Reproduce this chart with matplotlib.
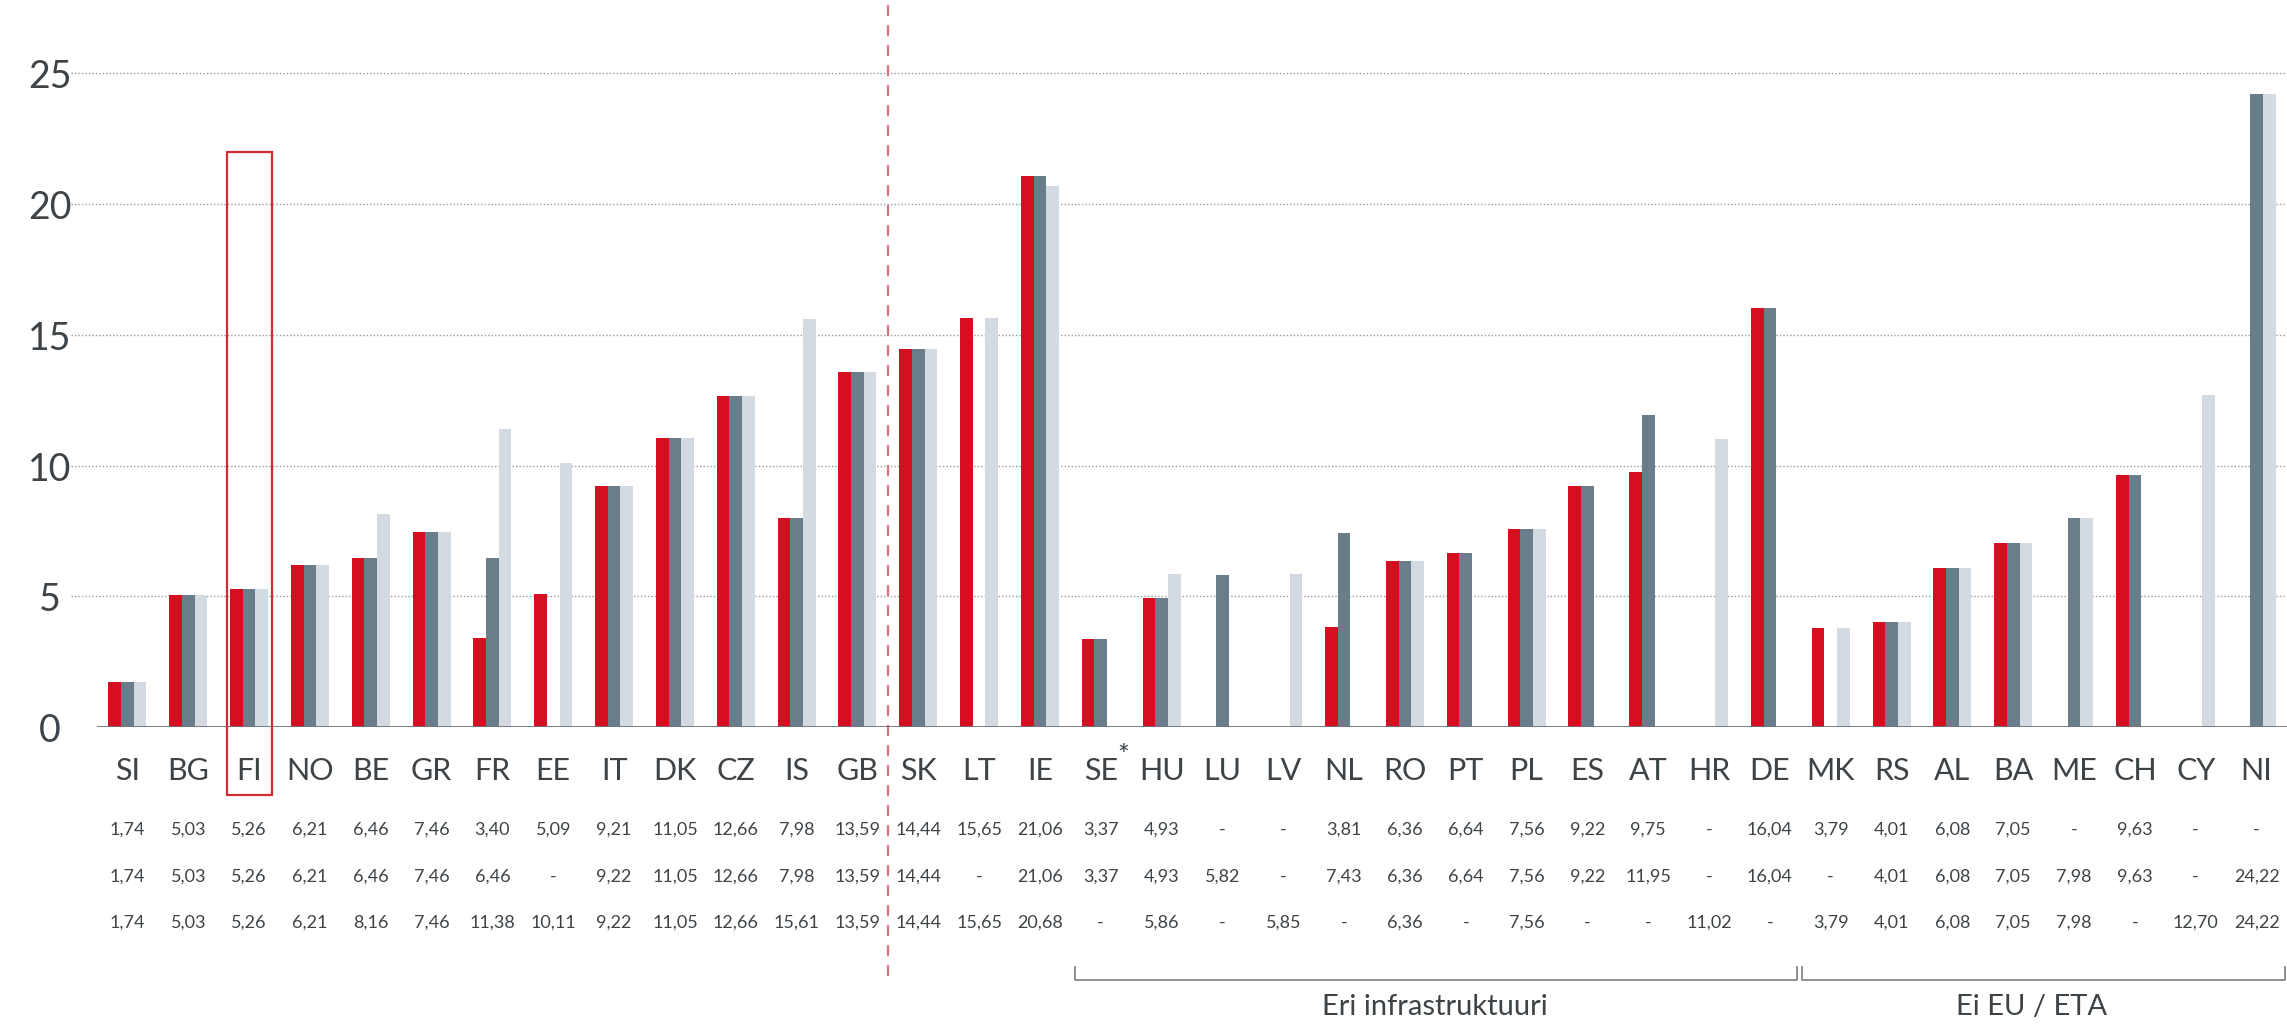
import matplotlib
matplotlib.use("Agg")
import matplotlib.pyplot as plt
import matplotlib.transforms as mtransforms
from matplotlib.patches import Rectangle
import numpy as np

countries = ["SI", "BG", "FI", "NO", "BE", "GR", "FR", "EE", "IT", "DK", "CZ", "IS",
             "GB", "SK", "LT", "IE", "SE", "HU", "LU", "LV", "NL", "RO", "PT", "PL",
             "ES", "AT", "HR", "DE", "MK", "RS", "AL", "BA", "ME", "CH", "CY", "NI"]

# None = "-" in the table (no bar)
series_red = [1.74, 5.03, 5.26, 6.21, 6.46, 7.46, 3.40, 5.09, 9.21, 11.05, 12.66, 7.98,
              13.59, 14.44, 15.65, 21.06, 3.37, 4.93, None, None, 3.81, 6.36, 6.64, 7.56,
              9.22, 9.75, None, 16.04, 3.79, 4.01, 6.08, 7.05, None, 9.63, None, None]
series_dark = [1.74, 5.03, 5.26, 6.21, 6.46, 7.46, 6.46, None, 9.22, 11.05, 12.66, 7.98,
               13.59, 14.44, None, 21.06, 3.37, 4.93, 5.82, None, 7.43, 6.36, 6.64, 7.56,
               9.22, 11.95, None, 16.04, None, 4.01, 6.08, 7.05, 7.98, 9.63, None, 24.22]
series_light = [1.74, 5.03, 5.26, 6.21, 8.16, 7.46, 11.38, 10.11, 9.22, 11.05, 12.66, 15.61,
                13.59, 14.44, 15.65, 20.68, None, 5.86, None, 5.85, None, 6.36, None, 7.56,
                None, None, 11.02, None, 3.79, 4.01, 6.08, 7.05, 7.98, None, 12.70, 24.22]

y_ticks = [0, 5, 10, 15, 20, 25]
group_labels = ["Eri infrastruktuuri", "Ei EU / ETA"]

RED = "#d50f1f"
DARK = "#697d8a"
LIGHT = "#d3dae1"
TEXT = "#3d4347"
FONT = ["Lato", "DejaVu Sans"]


def fmt(v):
    return "-" if v is None else f"{v:.2f}".replace(".", ",")


W, H = 2287, 1024
fig = plt.figure(figsize=(W / 100, H / 100), dpi=100)
ax = fig.add_axes([97 / W, 1 - 727 / H, 1 - 97 / W, (727 - 21) / H])

x = np.arange(len(countries))
bw = 0.208
for vals, off, col in [(series_red, -bw, RED), (series_dark, 0, DARK), (series_light, bw, LIGHT)]:
    xs = [xi + off for xi, v in zip(x, vals) if v is not None]
    hs = [v for v in vals if v is not None]
    ax.bar(xs, hs, width=bw, color=col, linewidth=0, zorder=3)

ax.set_xlim(-0.5, 35.5)
ax.set_ylim(0, 27)
for s in ax.spines.values():
    s.set_visible(False)
ax.set_xticks([])
ax.set_yticks([])

# dotted gridlines, extend a bit left of the axes
for t in y_ticks[1:]:
    ax.axhline(t, xmin=-0.012, xmax=1, color="#9a9a9a", linestyle=(0, (1, 1.5)),
               linewidth=1.0, clip_on=False, zorder=1)
ax.axhline(0, color="#6f7478", linewidth=2, zorder=4)

# y tick labels
for t in y_ticks:
    fig.text(50 / W, ax.transData.transform((0, t))[1] / H - 0.004, str(t),
             ha="center", va="center", fontsize=27, color=TEXT, family=FONT)

# blended transform: data x, figure-pixel y
bt = mtransforms.blended_transform_factory(ax.transData, fig.transFigure)


def fy(py):
    return 1 - py / H


for i, c in enumerate(countries):
    ax.text(i, fy(771), c, transform=bt, ha="center", va="center", fontsize=22,
            color=TEXT, family=FONT, clip_on=False)
    for row, py in [(series_red, 830), (series_dark, 877), (series_light, 923)]:
        ax.text(i, fy(py), fmt(row[i]), transform=bt, ha="center", va="center",
                fontsize=13, color=TEXT, family=FONT, clip_on=False)

# asterisk for SE
ax.text(16.37, fy(744), "*", transform=bt, ha="center", va="top", fontsize=20,
        color=TEXT, family=FONT, clip_on=False)

# highlight box around FI
ax.add_patch(Rectangle((1.64, -2.6), 0.73, 24.6, fill=False, edgecolor="#d42a35",
                       linewidth=1.6, clip_on=False, zorder=5))

# dashed separator between GB and SK
ax.plot([12.5, 12.5], [fy(5), fy(983)], transform=bt, color="#e0707a",
        linestyle=(0, (5, 4)), linewidth=1.6, clip_on=False, zorder=2)

# group brackets
line_kw = dict(transform=bt, color="#8c9194", linewidth=1.4, clip_on=False)
for x0, x1 in [(15.58, 27.45), (27.52, 35.47)]:
    ax.plot([x0, x0, x1, x1], [fy(967), fy(980), fy(980), fy(967)], **line_kw)
for label, xc in zip(group_labels, [21.5, 31.3]):
    ax.text(xc, fy(1007), label, transform=bt, ha="center", va="center", fontsize=21,
            color=TEXT, family=FONT, clip_on=False)

fig.savefig("out.png", dpi=100, facecolor="white")
